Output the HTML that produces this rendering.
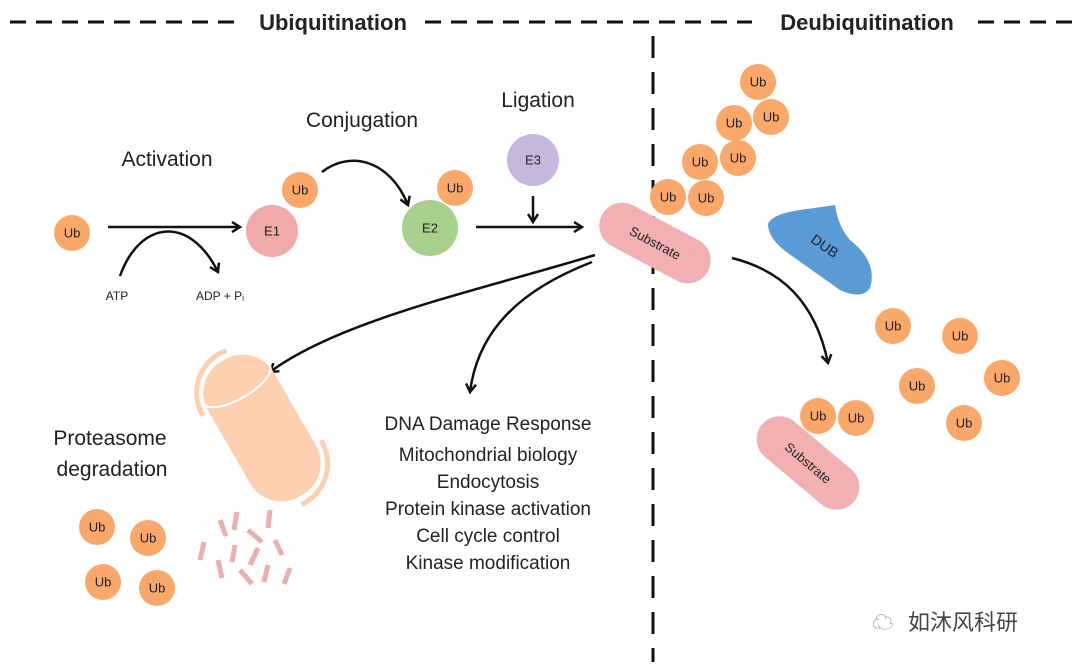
<!DOCTYPE html>
<html><head><meta charset="utf-8"><style>
html,body{margin:0;padding:0;background:#fff;width:1080px;height:667px;overflow:hidden}
svg{display:block}
text{font-family:"Liberation Sans","Noto Sans CJK SC",sans-serif;fill:#222}
.ub{fill:#f9a86a}
.ubt{font-size:13px;text-anchor:middle;dominant-baseline:central}
.ar{fill:none;stroke:#111;stroke-width:2.5}
</style></head><body>
<svg width="1080" height="667" viewBox="0 0 1080 667">
<defs>
<marker id="ah" markerWidth="12" markerHeight="12" refX="9" refY="6" orient="auto" markerUnits="userSpaceOnUse">
<path d="M1,1 L9,6 L1,11" fill="none" stroke="#111" stroke-width="2.5"/></marker>
<g id="u"><circle r="18" class="ub"/><text class="ubt">Ub</text></g>
</defs>
<line x1="10" y1="22" x2="240" y2="22" stroke="#111" stroke-width="3" stroke-dasharray="16,10"/>
<line x1="425" y1="22" x2="752" y2="22" stroke="#111" stroke-width="3" stroke-dasharray="16,10"/>
<line x1="978" y1="22" x2="1072" y2="22" stroke="#111" stroke-width="3" stroke-dasharray="16,10"/>
<text x="333" y="30" font-size="22" font-weight="bold" text-anchor="middle">Ubiquitination</text>
<text x="867" y="30" font-size="22" font-weight="bold" text-anchor="middle">Deubiquitination</text>
<line x1="653" y1="36" x2="653" y2="662" stroke="#111" stroke-width="3" stroke-dasharray="22,14"/>

<text x="167" y="166" font-size="21" text-anchor="middle">Activation</text>
<use href="#u" x="72" y="233"/>
<line x1="108" y1="227" x2="240" y2="227" class="ar" marker-end="url(#ah)"/>
<path d="M120,276 C140,220 190,215 218,272" class="ar" marker-end="url(#ah)"/>
<text x="117" y="300" font-size="12" text-anchor="middle">ATP</text>
<text x="220" y="300" font-size="12" text-anchor="middle">ADP + Pᵢ</text>
<circle cx="272" cy="231" r="26" fill="#f0aaa8"/><text x="272" y="231" class="ubt">E1</text>
<use href="#u" x="300" y="190"/>
<text x="362" y="127" font-size="21" text-anchor="middle">Conjugation</text>
<path d="M322,172 C350,150 390,160 408,205" class="ar" marker-end="url(#ah)"/>
<circle cx="430" cy="228" r="28" fill="#a8d08d"/><text x="430" y="228" class="ubt">E2</text>
<use href="#u" x="455" y="188"/>
<text x="538" y="107" font-size="21" text-anchor="middle">Ligation</text>
<circle cx="533" cy="160" r="26" fill="#c8b6dc"/><text x="533" y="160" class="ubt">E3</text>
<line x1="533" y1="196" x2="533" y2="222" class="ar" marker-end="url(#ah)"/>
<line x1="476" y1="227" x2="582" y2="227" class="ar" marker-end="url(#ah)"/>

<g transform="translate(655,243) rotate(28)"><rect x="-60" y="-23" width="120" height="46" rx="23" fill="#f2b0b3"/>
<text class="ubt" font-size="15">Substrate</text></g>
<use href="#u" x="668" y="197"/><use href="#u" x="706" y="198"/>
<use href="#u" x="700" y="162"/><use href="#u" x="738" y="158"/>
<use href="#u" x="734" y="123"/><use href="#u" x="771" y="117"/>
<use href="#u" x="758" y="82"/>

<path d="M768,224 Q772,214 800,210 L835,205 Q838,226 850,240 Q878,262 870,288 Q862,300 840,290 L792,256 Q768,240 768,224 Z" fill="#5b9bd5"/>
<text x="822" y="250" font-size="14" text-anchor="middle" transform="rotate(35 822 250)">DUB</text>
<path d="M732,258 C780,270 815,300 828,363" class="ar" marker-end="url(#ah)"/>

<use href="#u" x="893" y="326"/><use href="#u" x="960" y="336"/>
<use href="#u" x="1002" y="378"/><use href="#u" x="917" y="386"/>
<use href="#u" x="964" y="423"/>
<use href="#u" x="818" y="416"/><use href="#u" x="856" y="418"/>
<g transform="translate(808,463) rotate(40)"><rect x="-60" y="-23" width="120" height="46" rx="23" fill="#f2b0b3"/>
<text class="ubt" font-size="15">Substrate</text></g>

<path d="M595,255 C480,290 340,320 270,372" class="ar" marker-end="url(#ah)"/>
<path d="M592,262 C520,290 478,330 470,392" class="ar" marker-end="url(#ah)"/>
<g font-size="19" text-anchor="middle">
<text x="488" y="430">DNA Damage Response</text>
<text x="488" y="461">Mitochondrial biology</text>
<text x="488" y="488">Endocytosis</text>
<text x="488" y="515">Protein kinase activation</text>
<text x="488" y="542">Cell cycle control</text>
<text x="488" y="569">Kinase modification</text>
</g>
<text x="110" y="445" font-size="21" text-anchor="middle">Proteasome</text>
<text x="112" y="476" font-size="21" text-anchor="middle">degradation</text>

<g transform="translate(262,428) rotate(-30)">
<rect x="-38" y="-78" width="76" height="156" rx="36" fill="#fdd0b0"/>
<path d="M-38,-50 A38,14 0 0 0 38,-50" fill="none" stroke="#fff" stroke-width="2"/>
<path d="M-45,-40 A45,45 0 0 1 8,-85" fill="none" stroke="#fdd0b0" stroke-width="5"/>
<path d="M45,40 A45,45 0 0 1 -4,86" fill="none" stroke="#fdd0b0" stroke-width="5"/>
</g>
<g stroke="#eab0b0" stroke-width="5">
<line x1="220" y1="520" x2="226" y2="536"/><line x1="237" y1="512" x2="234" y2="530"/>
<line x1="270" y1="510" x2="268" y2="528"/><line x1="248" y1="530" x2="262" y2="542"/>
<line x1="275" y1="540" x2="282" y2="555"/><line x1="204" y1="542" x2="200" y2="560"/>
<line x1="235" y1="545" x2="232" y2="562"/><line x1="258" y1="548" x2="250" y2="565"/>
<line x1="218" y1="560" x2="222" y2="578"/><line x1="240" y1="570" x2="252" y2="584"/>
<line x1="268" y1="565" x2="264" y2="582"/><line x1="290" y1="568" x2="284" y2="584"/>
</g>
<use href="#u" x="97" y="527"/><use href="#u" x="148" y="538"/>
<use href="#u" x="103" y="582"/><use href="#u" x="157" y="588"/>

<text x="872" y="630" font-size="22" style="fill:#999">☁</text>
<text x="908" y="630" font-size="22" style="fill:#444">如沐风科研</text>
</svg>
</body></html>
